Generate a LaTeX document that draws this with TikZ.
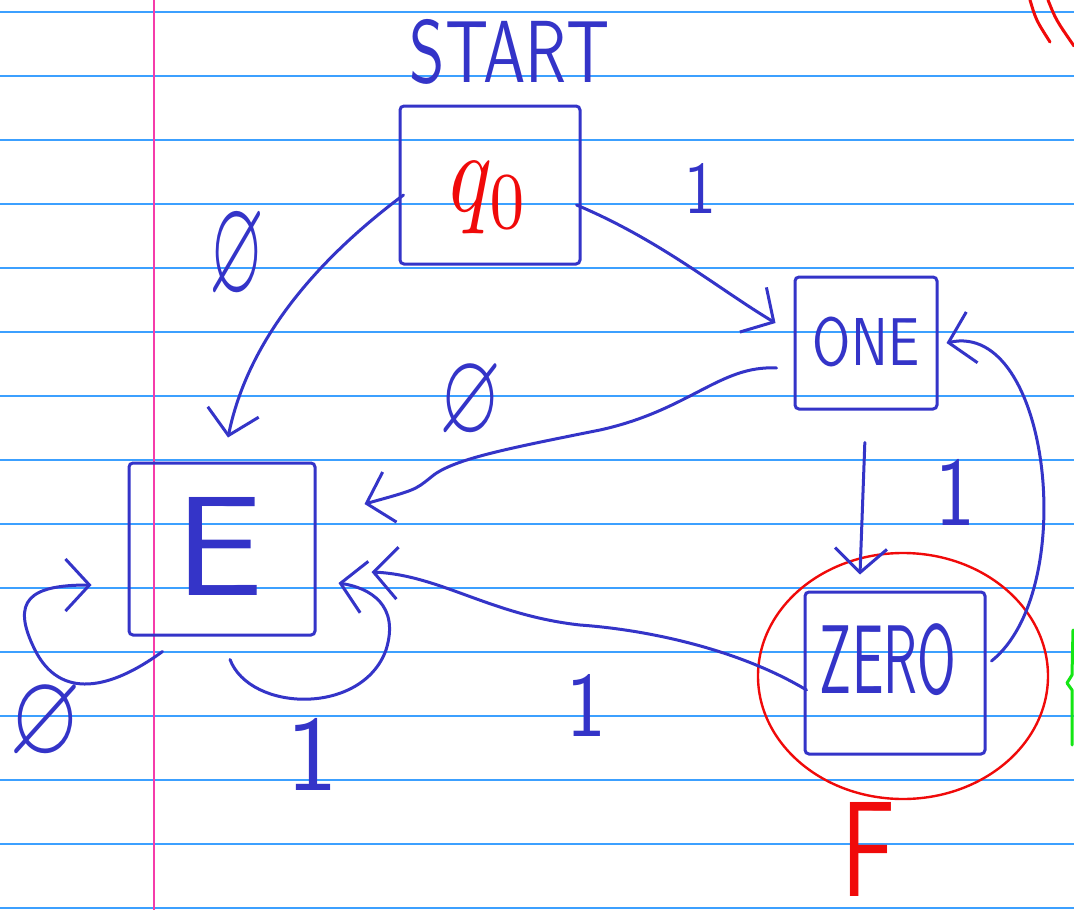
\documentclass[tikz,border=0pt]{standalone}
\usepackage{amssymb}
\usepackage{graphicx}
\usetikzlibrary{arrows.meta,shapes.geometric,calc}
\definecolor{ink}{RGB}{52,52,200}
\definecolor{rulecol}{RGB}{60,160,255}
\definecolor{margincol}{RGB}{245,60,170}
\definecolor{redink}{RGB}{240,10,10}
\definecolor{greenink}{RGB}{20,230,20}
\newcommand{\handfit}[3]{\resizebox*{#1pt}{#2pt}{#3}}
\begin{document}
\begin{tikzpicture}[x=1pt,y=-1pt,
  state/.style={draw=ink, line width=3pt, rectangle, rounded corners=4pt, inner sep=0pt},
  edge/.style={draw=ink, line width=3pt, line cap=round, line join=round, -{Straight Barb[length=24pt,width=52pt]}},
  lbl/.style={text=ink, inner sep=0pt, font=\sffamily},
  scribble/.style={line width=3pt, line cap=round, line join=round},
]
\useasboundingbox (0,0) rectangle (1074,910);
\fill[white] (0,0) rectangle (1074,910);
\foreach \k in {0,...,14} \draw[rulecol, line width=1.4pt] (0,12+64*\k) -- (1074,12+64*\k);
\draw[margincol, line width=1.4pt] (154,0) -- (154,910);

% states
\node[state, minimum width=180pt, minimum height=158pt] (q0) at (490,185) {};
\node[text=redink, inner sep=0pt] (q0txt) at (490,198) {\handfit{80}{72}{$q_0$}};
\node[lbl] (start) at (510,52) {\handfit{200}{65}{START}};
\node[state, minimum width=142pt, minimum height=132pt] (one) at (866,343) {};
\node[lbl] (onetxt) at (866,342) {\handfit{106}{50}{ONE}};
\node[state, minimum width=186pt, minimum height=172pt] (e) at (222,549) {};
\node[lbl] (etxt) at (220,546) {\handfit{88}{98}{E}};
\node[state, minimum width=180pt, minimum height=162pt] (zero) at (895,673) {};
\node[lbl] (zerotxt) at (888,660) {\handfit{136}{72}{ZERO}};
\node[draw=redink, line width=2.4pt, ellipse, minimum width=290pt, minimum height=246pt] (acc) at (903,676) {};
\node[text=redink, inner sep=0pt, font=\sffamily, anchor=north west] (fin) at (841,802) {\handfit{54}{94}{F}};

% edges
\draw[edge] ($(q0.west)+(5,10)$) .. controls (330,250) and (250,330) .. ($(e.north)+(6,-24)$);
\draw[edge] ($(q0.east)+(-5,20)$) .. controls (660,240) and (720,290) .. ($(one.west)+(-18,-20)$);
\draw[edge] ($(one.west)+(-17,25)$) .. controls (720,365) and (690,410) .. (600,430) .. controls (500,450) and (450,460) .. (430,478) .. controls (415,490) .. ($(e.east)+(48,-45)$);
\draw[edge, shorten <=32pt] (one.south) -- ($(one.south |- zero.north)+(-6,-16)$);
\draw[edge] ($(zero.east)+(5,-12)$) .. controls (1080,590) and (1050,320) .. ($(one.east)+(8,0)$);
\draw[edge] ($(zero.west)+(3,17)$) .. controls (740,650) and (650,630) .. (580,625) .. controls (490,615) and (440,575) .. ($(e.east)+(55,23)$);
\draw[edge] ($(e.south)+(8,23)$) .. controls (250,712) and (362,716) .. (386,650) .. controls (400,605) and (370,588) .. ($(e.east)+(22,34)$);
\draw[edge] ($(e.south west)+(35,15)$) .. controls (110,690) and (60,700) .. (35,650) .. controls (10,600) and (30,585) .. ($(e.west)+(-36,36)$);

% edge labels
\node[lbl] (l1) at (237,258) {\handfit{55}{92}{$\varnothing$}};
\node[lbl] (l2) at (700,188) {\handfit{32}{50}{1}};
\node[lbl] (l3) at (470,403) {\handfit{62}{78}{$\varnothing$}};
\node[lbl] (l4) at (955,492) {\handfit{40}{66}{1}};
\node[lbl] (l5) at (586,705) {\handfit{40}{62}{1}};
\node[lbl] (l6) at (312,754) {\handfit{52}{72}{1}};
\node[lbl] (l7) at (46,724) {\handfit{72}{78}{$\varnothing$}};

% stray marks at the edges
\draw[redink, scribble] (1030,0) .. controls (1036,20) .. (1050,42);
\draw[redink, scribble] (1048,0) .. controls (1056,20) .. (1074,46);
\draw[greenink, scribble] (1073,630) -- (1072,675) -- (1067,683) -- (1072,690) -- (1072,745);
\end{tikzpicture}
\end{document}
